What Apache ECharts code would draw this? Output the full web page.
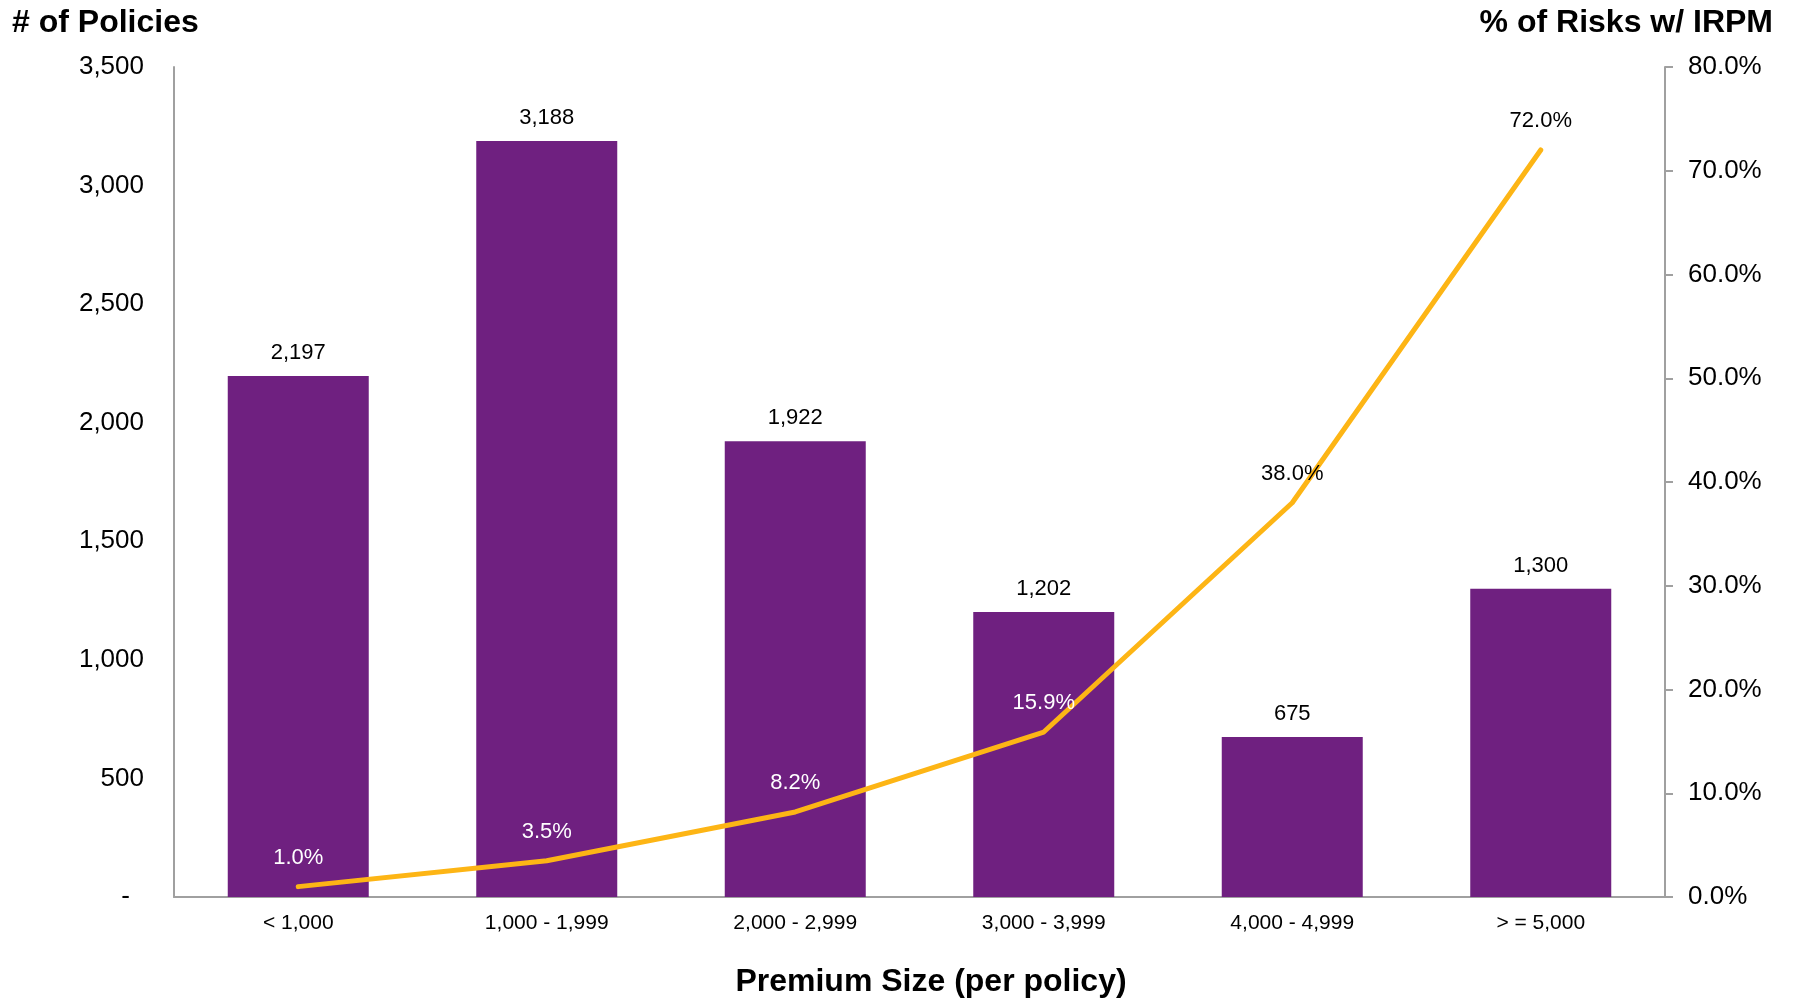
<!DOCTYPE html>
<html>
<head>
<meta charset="utf-8">
<script src="https://cdn.jsdelivr.net/npm/echarts@6/dist/echarts.min.js"></script>
<style>
html,body{margin:0;padding:0;background:#fff;}
#chart{width:1794px;height:998px;}
</style>
</head>
<body>
<div id="chart"></div>
<script>
const categories = ['< 1,000', '1,000 - 1,999', '2,000 - 2,999', '3,000 - 3,999', '4,000 - 4,999', '> = 5,000'];
const policies = [2197, 3188, 1922, 1202, 675, 1300];
const pctIRPM = [1.0, 3.5, 8.2, 15.9, 38.0, 72.0];
const leftTitle = '# of Policies';
const rightTitle = '% of Risks w/ IRPM';
const xTitle = 'Premium Size (per policy)';

const FONT = '"Liberation Sans", Arial, sans-serif';
const AXIS_GRAY = '#a0a0a0';
const BAR_COLOR = '#6f2080';
const LINE_COLOR = '#fdb515';

const chart = echarts.init(document.getElementById('chart'), null, {renderer: 'canvas'});

const lineData = pctIRPM.map(function (v, i) {
  return {
    value: v,
    label: { color: i < 4 ? '#ffffff' : '#000000' }
  };
});

chart.setOption({
  animation: false,
  backgroundColor: '#ffffff',
  textStyle: { fontFamily: FONT },
  grid: { left: 174, right: 129, top: 67, bottom: 101, containLabel: false },
  graphic: [
    { type: 'text', left: 12, top: 7, style: { text: leftTitle, font: 'bold 32px ' + FONT, fill: '#000' } },
    { type: 'text', right: 21, top: 7, style: { text: rightTitle, font: 'bold 32px ' + FONT, fill: '#000' } },
    { type: 'text', x: 931, y: 982, style: { text: xTitle, font: 'bold 32px ' + FONT, fill: '#000', textAlign: 'center', textVerticalAlign: 'middle' } }
  ],
  xAxis: {
    type: 'category',
    data: categories,
    axisLine: { show: true, lineStyle: { color: AXIS_GRAY, width: 2 } },
    axisTick: { show: false },
    axisLabel: { color: '#000', fontSize: 21, margin: 16, fontFamily: FONT, interval: 0 },
    splitLine: { show: false }
  },
  yAxis: [
    {
      type: 'value',
      min: 0, max: 3500, interval: 500,
      axisLine: { show: true, lineStyle: { color: AXIS_GRAY, width: 2 } },
      axisTick: { show: false },
      splitLine: { show: false },
      axisLabel: {
        color: '#000', fontSize: 26, margin: 30, fontFamily: FONT,
        formatter: function (v) { return v === 0 ? '{d|-}' : v.toLocaleString('en-US'); },
        rich: { d: { fontSize: 26, color: '#000', padding: [0, 14, 0, 0], fontFamily: FONT } }
      }
    },
    {
      type: 'value',
      min: 0, max: 80, interval: 10,
      position: 'right',
      axisLine: { show: true, lineStyle: { color: AXIS_GRAY, width: 2 } },
      axisTick: { show: true, length: 8, inside: false, lineStyle: { color: AXIS_GRAY, width: 2 } },
      splitLine: { show: false },
      axisLabel: {
        color: '#000', fontSize: 26, margin: 23, fontFamily: FONT,
        formatter: function (v) { return v.toFixed(1) + '%'; }
      }
    }
  ],
  series: [
    {
      name: leftTitle,
      type: 'bar',
      yAxisIndex: 0,
      data: policies,
      barWidth: 141,
      itemStyle: { color: BAR_COLOR },
      label: {
        show: true, position: 'top', distance: 12, color: '#000', fontSize: 22, fontFamily: FONT,
        formatter: function (p) { return p.value.toLocaleString('en-US'); }
      },
      z: 2
    },
    {
      name: rightTitle,
      type: 'line',
      yAxisIndex: 1,
      data: lineData,
      symbol: 'circle',
      symbolSize: 4,
      showSymbol: true,
      lineStyle: { color: LINE_COLOR, width: 5, cap: 'round', join: 'round' },
      itemStyle: { color: LINE_COLOR },
      label: {
        show: true, position: 'top', distance: 16, fontSize: 22, fontFamily: FONT,
        formatter: function (p) { return p.value.toFixed(1) + '%'; }
      },
      z: 3
    }
  ]
});
</script>
</body>
</html>
